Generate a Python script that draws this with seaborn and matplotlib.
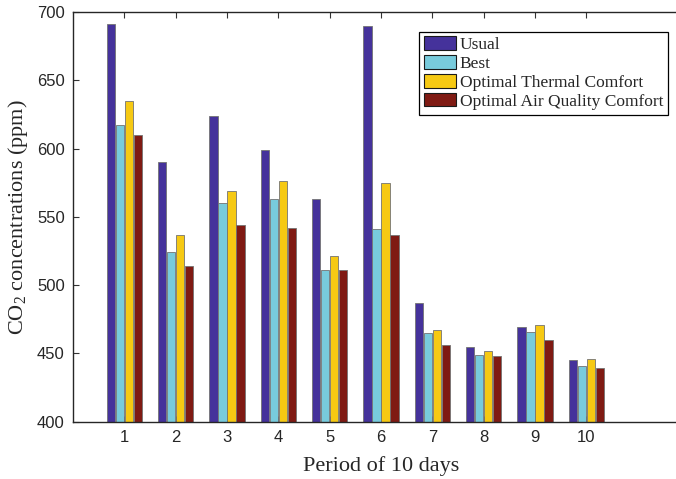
import matplotlib
matplotlib.use("Agg")
import matplotlib.pyplot as plt
import seaborn as sns
import pandas as pd

periods = ["1", "2", "3", "4", "5", "6", "7", "8", "9", "10"]
series_names = ["Usual", "Best", "Optimal Thermal Comfort", "Optimal Air Quality Comfort"]
usual = [691, 590, 624, 599, 563, 690, 487, 455, 469, 445]
best = [617, 524, 560, 563, 511, 541, 465, 449, 466, 441]
thermal = [635, 537, 569, 576, 521, 575, 467, 452, 471, 446]
air = [610, 514, 544, 542, 511, 537, 456, 448, 460, 439]
colors = ["#45329b", "#78cbdc", "#f6c913", "#7f1a13"]
yticks = [400, 450, 500, 550, 600, 650, 700]

rows = []
for name, vals in zip(series_names, [usual, best, thermal, air]):
    for p, v in zip(periods, vals):
        rows.append({"period": p, "series": name, "value": v})
df = pd.DataFrame(rows)

sns.set_style("white")
plt.rcParams["mathtext.default"] = "regular"
fig = plt.figure(figsize=(6.76, 4.79), dpi=100)
ax = fig.add_axes([73/676, 57.3/479, 616/676, 409.7/479])

sns.barplot(data=df, x="period", y="value", hue="series", order=periods,
            hue_order=series_names, palette=colors, width=0.7, gap=0.05,
            edgecolor="0.45", linewidth=0.6, saturation=1, ax=ax, errorbar=None)

ax.set_xlim(-1, 11)
ax.set_ylim(400, 700)
ax.set_yticks(yticks)
ax.set_yticklabels([str(t) for t in yticks], fontsize=12, family="Liberation Sans")
ax.set_xticks(range(len(periods)))
ax.set_xticklabels(periods, fontsize=12, family="Liberation Sans")
ax.tick_params(direction="in", length=4, width=0.8, color="0.2", top=True, right=True,
               bottom=True, left=True, pad=6)
for s in ax.spines.values():
    s.set_visible(True)
    s.set_color("0.15")
    s.set_linewidth(1.0)

ax.set_xlabel("Period of 10 days", fontsize=16, family="Liberation Serif", labelpad=8)
ax.set_ylabel(r"CO$_2$ concentrations (ppm)", fontsize=16, family="Liberation Serif", labelpad=5)

handles, labels = ax.get_legend_handles_labels()
for h in handles:
    h.set_edgecolor("0.1")
    h.set_linewidth(0.8)
leg = ax.legend(handles, labels, loc="upper left",
                prop={"family": "Liberation Serif", "size": 12.5},
                frameon=True, fancybox=False, edgecolor="black", framealpha=1,
                handlelength=1.85, handleheight=0.8, handletextpad=0.2, labelspacing=0.13,
                borderpad=0.27, borderaxespad=0)
leg.get_frame().set_linewidth(0.9)
leg.set_bbox_to_anchor((419.3/676, 1-31.7/479), transform=fig.transFigure)

fig.savefig("out.png", dpi=100)
